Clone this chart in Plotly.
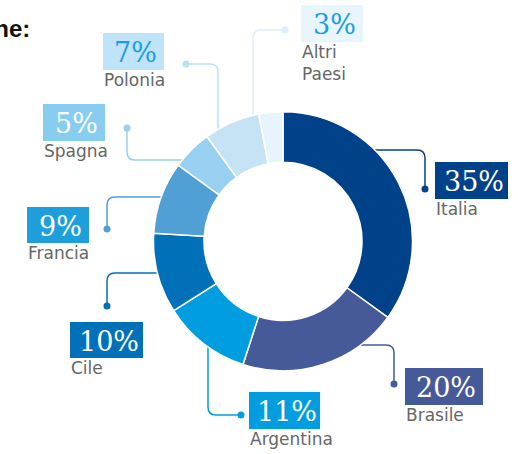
import plotly.graph_objects as go

W, H = 518, 454

countries = ["Italia", "Brasile", "Argentina", "Cile", "Francia", "Spagna", "Polonia", "Altri<br>Paesi"]
shares = [35, 20, 11, 10, 9, 5, 7, 3]
pct_labels = ["35%", "20%", "11%", "10%", "9%", "5%", "7%", "3%"]
slice_colors = ["#00428a", "#465a9a", "#009ee0", "#0070b8", "#509fd5", "#99cff0", "#c6e3f5", "#e8f4fc"]
box_colors = ["#00428a", "#465a9a", "#009ee0", "#0070b8", "#1e9fdc", "#86cdf0", "#bfe3f8", "#e8f5fd"]
pct_text_colors = ["white", "white", "white", "white", "white", "white", "#1a9ee0", "#1a9ee0"]
line_colors = ["#00428a", "#465a9a", "#009ee0", "#0070b8", "#509fd5", "#99cff0", "#bcdff4", "#dceffa"]

# label box layout (pixels): left, top, width, height
boxes = [(435, 162, 73, 37), (405, 368, 78, 37), (249, 392, 71, 37), (70, 322, 73, 36),
         (27, 207, 62, 36), (43, 104, 62, 37), (103, 33, 61, 37), (301, 5, 62, 37)]
# leader lines (pixels): path points and dot position
leaders = [
    ("M 370,150 L 417,150 Q 425,150 425,158 L 425,189", (425, 189)),
    ("M 355,345 L 386,345 Q 394,345 394,353 L 394,384", (394, 384)),
    ("M 208,340 L 208,407 Q 208,415 216,415 L 241,415", (241, 415)),
    ("M 165,273 L 115,273 Q 107,273 107,281 L 107,306", (107, 306)),
    ("M 165,197 L 115,197 Q 107,197 107,205 L 107,229", (107, 229)),
    ("M 127,128 L 127,152 Q 127,160 135,160 L 190,160", (127, 128)),
    ("M 186,64 L 210,64 Q 218,64 218,72 L 218,140", (186, 64)),
    ("M 285,30 L 261,30 Q 253,30 253,38 L 253,125", (285, 30)),
]


def px(x):
    return x / W


def py(y):
    return 1 - y / H


def to_paper_path(p):
    out = []
    for tok in p.split():
        if "," in tok:
            a, b = tok.split(",")
            out.append(f"{px(float(a)):.5f},{py(float(b)):.5f}")
        else:
            out.append(tok)
    return " ".join(out)


cx, cy, R = 283, 241.3, 129.5

fig = go.Figure(go.Pie(
    values=shares,
    labels=[c.replace("<br>", " ") for c in countries],
    marker=dict(colors=slice_colors, line=dict(color="white", width=1.5)),
    hole=0.61,
    sort=False,
    direction="clockwise",
    rotation=0,
    textinfo="none",
    hoverinfo="label+percent",
    showlegend=False,
    domain=dict(x=[px(cx - R), px(cx + R)], y=[py(cy + R), py(cy - R)]),
))

shapes = []
annotations = []
for i in range(len(countries)):
    path, (dx, dy) = leaders[i]
    shapes.append(dict(type="path", path=to_paper_path(path), xref="paper", yref="paper",
                       line=dict(color=line_colors[i], width=1.5), layer="below"))
    shapes.append(dict(type="circle", xref="paper", yref="paper", xsizemode="pixel", ysizemode="pixel",
                       xanchor=px(dx), yanchor=py(dy), x0=-3.5, x1=3.5, y0=-3.5, y1=3.5,
                       fillcolor=line_colors[i], line=dict(width=0), layer="below"))
    l, t, w, h = boxes[i]
    shapes.append(dict(type="rect", xref="paper", yref="paper", x0=px(l), x1=px(l + w),
                       y0=py(t + h), y1=py(t), fillcolor=box_colors[i], line=dict(width=0), layer="above"))
    annotations.append(dict(text=pct_labels[i], xref="paper", yref="paper", x=px(l + w / 2 + 2), y=py(t + h / 2 + 1),
                            xanchor="center", yanchor="middle", showarrow=False,
                            font=dict(family="DejaVu Serif", size=27, color=pct_text_colors[i])))
    annotations.append(dict(text=countries[i], xref="paper", yref="paper", x=px(l - 1), y=py(t + h - 2),
                            xanchor="left", yanchor="top", align="left", showarrow=False,
                            font=dict(family="DejaVu Sans", size=17, color="#666666")))

annotations.append(dict(text="<b>Ripartizione per nazione:</b>", xref="paper", yref="paper",
                        x=px(32), y=py(28), xanchor="right", yanchor="middle", showarrow=False,
                        font=dict(family="Liberation Sans", size=24, color="#111111")))

fig.update_layout(
    width=W, height=H,
    margin=dict(l=0, r=0, t=0, b=0),
    paper_bgcolor="white",
    plot_bgcolor="white",
    shapes=shapes,
    annotations=annotations,
)

fig.write_html("out.html", config={"displayModeBar": False},
               post_script="document.body.style.margin='0';")
